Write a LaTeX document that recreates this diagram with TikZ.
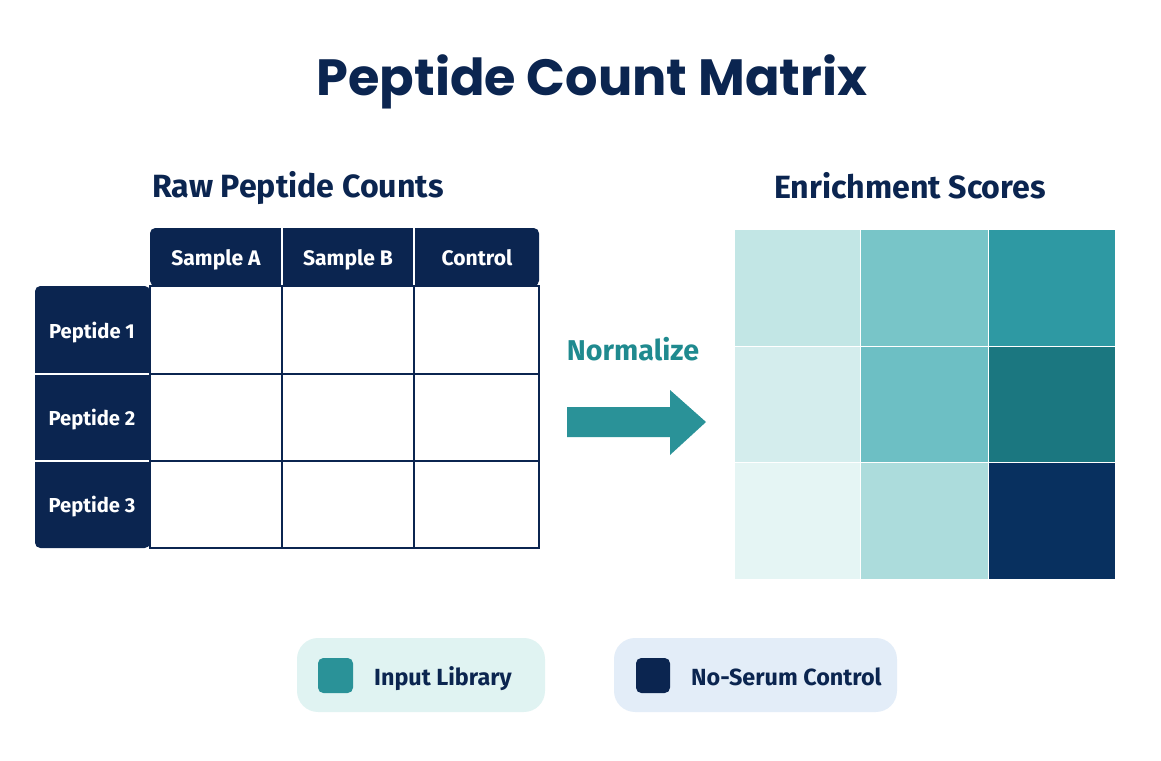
\documentclass[tikz,border=0pt]{standalone}
\usepackage{fontspec}
\setmainfont{Fira Sans}
\newfontfamily\titlefont{Poppins}
\usepackage{tikz}
\usepackage{xcolor}
\definecolor{navy}{HTML}{0B2550}
\definecolor{tealc}{HTML}{2A9298}
\definecolor{tealtxt}{HTML}{1F8A8F}
\definecolor{legA}{HTML}{E0F3F2}
\definecolor{legB}{HTML}{E3EDF8}
\definecolor{hA}{HTML}{C2E6E5}
\definecolor{hB}{HTML}{78C5C8}
\definecolor{hC}{HTML}{2E99A3}
\definecolor{hD}{HTML}{D4EDED}
\definecolor{hE}{HTML}{6DBFC4}
\definecolor{hF}{HTML}{1B7780}
\definecolor{hG}{HTML}{E5F5F4}
\definecolor{hH}{HTML}{ACDCDC}
\definecolor{hI}{HTML}{08305F}
\tikzset{headtext/.style={anchor=base,text=white,font=\bfseries\fontsize{12}{14}\selectfont},
 rowtext/.style={headtext,font=\bfseries\fontsize{11.5}{14}\selectfont},
 subtitle/.style={anchor=base,text=navy,font=\bfseries\fontsize{18.3}{20}\selectfont},
 legtext/.style={anchor=base west,text=navy,font=\bfseries\fontsize{13.3}{15}\selectfont},
 grid/.style={draw=navy,line width=1.3pt},
 }

\begin{document}
\begin{tikzpicture}[x=0.02cm,y=-0.02cm]
        \useasboundingbox[fill=white] (0,0) rectangle (1161,761);
        \node[anchor=base,text=navy,font=\titlefont\bfseries\fontsize{29}{32}\selectfont] (title) at (592,95) {Peptide Count Matrix};

        % raw counts table
        \node[subtitle] (rawtitle) at (298,197) {Raw Peptide Counts};
        \fill[navy,rounded corners=3] (150,286) -- (150,228) -- (539,228) -- (539,286) -- cycle;
        \fill[navy,rounded corners=3] (150,286) -- (35,286) -- (35,548) -- (150,548) -- cycle;
        \draw[white,line width=1pt] (282,228) -- (282,286);
        \draw[white,line width=1pt] (414,228) -- (414,286);
        \draw[white,line width=1pt] (35,374) -- (150,374);
        \draw[white,line width=1pt] (35,461) -- (150,461);
        \draw[grid] (150,286) rectangle (539,548);
        \draw[grid] (282,286) -- (282,548);
        \draw[grid] (414,286) -- (414,548);
        \draw[grid] (150,374) -- (539,374);
        \draw[grid] (150,461) -- (539,461);
        \node[headtext] (sampA) at (216,265) {Sample A};
        \node[headtext] (sampB) at (348,265) {Sample B};
        \node[headtext] (ctrl) at (477,265) {Control};
        \node[rowtext] (pep1) at (92,338) {Peptide 1};
        \node[rowtext] (pep2) at (92,425) {Peptide 2};
        \node[rowtext] (pep3) at (92,512) {Peptide 3};

        % arrow
        \node[anchor=base,text=tealtxt,font=\bfseries\fontsize{16.3}{18}\selectfont] (norm) at (633,360) {Normalize};
        \fill[tealc] (567,407) -- (670,407) -- (670,390) -- (706,422) -- (670,455) -- (670,437) -- (567,437) -- cycle;

        % enrichment heatmap
        \node[subtitle] (enrtitle) at (910,198) {Enrichment Scores};
        \fill[hA] (735,230) rectangle (860,346);
        \fill[hB] (861,230) rectangle (988,346);
        \fill[hC] (989,230) rectangle (1115,346);
        \fill[hD] (735,347) rectangle (860,462);
        \fill[hE] (861,347) rectangle (988,462);
        \fill[hF] (989,347) rectangle (1115,462);
        \fill[hG] (735,463) rectangle (860,579);
        \fill[hH] (861,463) rectangle (988,579);
        \fill[hI] (989,463) rectangle (1115,579);

        % legend
        \fill[legA,rounded corners=12] (297,638) rectangle (545,712);
        \fill[tealc,rounded corners=3] (318,658) rectangle (353,693);
        \node[legtext] (leg1) at (368,685) {Input Library};
        \fill[legB,rounded corners=12] (614,638) rectangle (897,712);
        \fill[navy,rounded corners=3] (636,658) rectangle (670,693);
        \node[legtext] (leg2) at (685,685) {No-Serum Control};
    \end{tikzpicture}
\end{document}
